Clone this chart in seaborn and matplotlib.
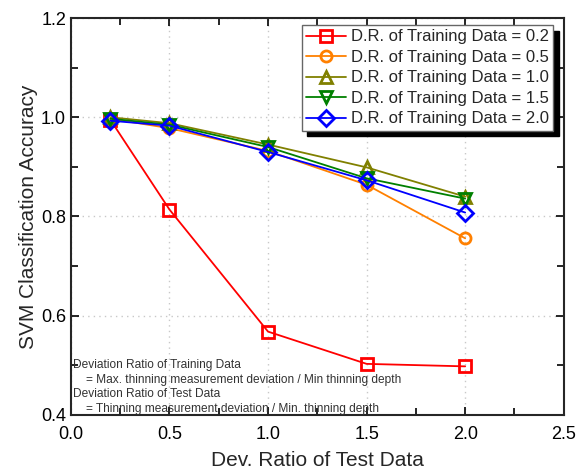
import pandas as pd
import matplotlib
matplotlib.use('Agg')
import matplotlib.pyplot as plt
import seaborn as sns
from matplotlib.ticker import MultipleLocator

# dev. ratio of test data (x)
test_ratio = [0.2, 0.5, 1.0, 1.5, 2.0]

# accuracy per training dev. ratio
acc_02 = [0.995, 0.814, 0.568, 0.503, 0.498]
acc_05 = [0.997, 0.978, 0.932, 0.864, 0.756]
acc_10 = [1.000, 0.988, 0.945, 0.899, 0.840]
acc_15 = [0.997, 0.985, 0.940, 0.877, 0.836]
acc_20 = [0.993, 0.983, 0.930, 0.873, 0.808]

labels = ["D.R. of Training Data = 0.2", "D.R. of Training Data = 0.5",
          "D.R. of Training Data = 1.0", "D.R. of Training Data = 1.5",
          "D.R. of Training Data = 2.0"]
colors = ["#ff0000", "#ff8000", "#808000", "#008000", "#0000ff"]
marks = ["s", "o", "^", "v", "D"]

rows = []
for lab, ys in zip(labels, [acc_02, acc_05, acc_10, acc_15, acc_20]):
    for x, y in zip(test_ratio, ys):
        rows.append({'x': x, 'acc': y, 'train': lab})
df = pd.DataFrame(rows)

sns.set_style("ticks")
plt.rcParams['font.family'] = ['Liberation Sans', 'DejaVu Sans']

fig = plt.figure(figsize=(5.86, 4.74), dpi=100)
ax = fig.add_axes([0.121, 0.1245, 0.841, 0.8375])

sns.lineplot(data=df, x='x', y='acc', hue='train', style='train',
             palette=dict(zip(labels, colors)), markers=dict(zip(labels, marks)),
             dashes=False, linewidth=1.3, markersize=8, legend=False, ax=ax)

for line, c in zip(ax.lines, colors):
    line.set_markerfacecolor('none')
    line.set_markeredgecolor(c)
    line.set_markeredgewidth(2)

ax.set_xlim(0, 2.5)
ax.set_ylim(0.4, 1.2)
ax.xaxis.set_major_locator(MultipleLocator(0.5))
ax.xaxis.set_minor_locator(MultipleLocator(0.25))
ax.yaxis.set_major_locator(MultipleLocator(0.2))
ax.yaxis.set_minor_locator(MultipleLocator(0.1))
ax.tick_params(which='both', direction='in', top=True, right=True, width=1.2,
               labelsize=13, colors='black')
ax.tick_params(axis='x', pad=8)
ax.tick_params(which='major', length=6)
ax.tick_params(which='minor', length=5)
ax.grid(True, which='major', linestyle=(0, (1, 3)), color='#c8c8c8', linewidth=1)
for sp in ax.spines.values():
    sp.set_linewidth(1.5)

ax.set_xlabel('Dev. Ratio of Test Data', fontsize=15, labelpad=6)
ax.set_ylabel('SVM Classification Accuracy', fontsize=15, labelpad=2)

leg = ax.legend(ax.lines, labels, loc='upper right', bbox_to_anchor=(0.985, 0.99),
                fontsize=12, frameon=True, fancybox=False,
                shadow={'color': 'black', 'alpha': 1, 'ox': 4, 'oy': -4},
                handlelength=2.4, handletextpad=0.3, borderpad=0.25, labelspacing=0.33,
                borderaxespad=0.2)
leg.get_frame().set_edgecolor('#666666')
leg.get_frame().set_linewidth(1)

note = ("Deviation Ratio of Training Data\n"
        "    = Max. thinning measurement deviation / Min thinning depth\n"
        "Deviation Ratio of Test Data\n"
        "    = Thinning measurement deviation / Min. thinning depth")
ax.text(0.005, 0.0, note, transform=ax.transAxes, fontsize=8.6, color='#333333',
        va='bottom', ha='left', linespacing=1.3)

fig.savefig('out.png', dpi=100)
